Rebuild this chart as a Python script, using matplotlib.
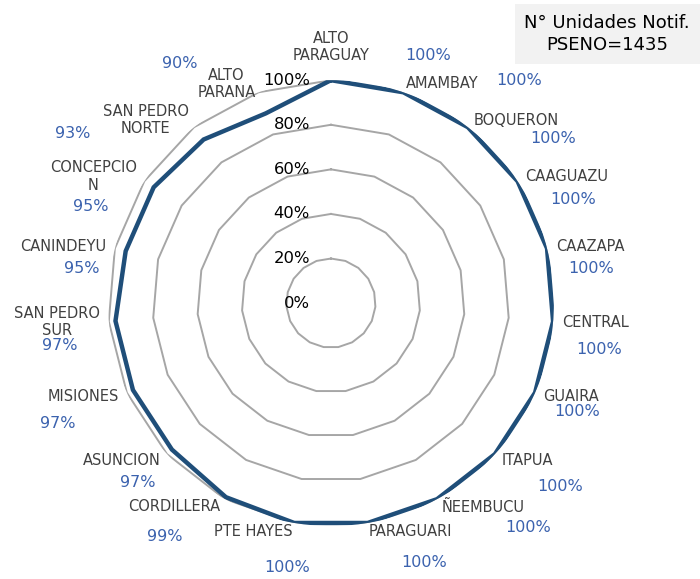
import numpy as np
import matplotlib.pyplot as plt
from matplotlib.patches import Rectangle

# Departamentos (clockwise from the top) and % of notifying units
labels = ["ALTO\nPARAGUAY", "AMAMBAY", "BOQUERON", "CAAGUAZU", "CAAZAPA",
          "CENTRAL", "GUAIRA", "ITAPUA", "ÑEEMBUCU", "PARAGUARI", "PTE HAYES",
          "CORDILLERA", "ASUNCION", "MISIONES", "SAN PEDRO\nSUR", "CANINDEYU",
          "CONCEPCIO\nN", "SAN PEDRO\nNORTE", "ALTO\nPARANA"]
values = [100, 100, 100, 100, 100, 100, 100, 100, 100, 100, 100,
          99, 97, 97, 97, 95, 95, 93, 90]
ring_levels = [20, 40, 60, 80, 100]
tick_levels = [0, 20, 40, 60, 80, 100]

# value label offsets (pixels) from each category label anchor
val_dx = [97, 113, 80, 48, 35, 37, 34, 59, 87, 55, -6, -56, -23, -61, -40, -24, -46, -116, -76]
val_dy = [16, 3, -18, -23, -22, -27, -15, -26, -21, -31, -36, -30, -22, -27, -23, -22, -30, -13, 20]

blue_line = "#1F4E79"
blue_text = "#3B62AE"
grey = "#A6A6A6"
txt = "#404040"

n = len(labels)
theta = np.arange(n) * 2 * np.pi / n
theta_c = np.append(theta, theta[0])

fig = plt.figure(figsize=(7, 5.79), dpi=100)
ax = fig.add_axes([0.1543, 0.0915, 0.637, 0.770], projection="polar")
ax.set_theta_zero_location("N")
ax.set_theta_direction(-1)
ax.set_ylim(0, 100)
ax.grid(False)
ax.spines["polar"].set_visible(False)
ax.set_xticks([])
ax.set_yticks([])
ax.patch.set_alpha(0)

# grid rings as polygons
for lv in ring_levels:
    ax.plot(theta_c, [lv] * (n + 1), color=grey, lw=1.4, zorder=1)

# radial tick labels
for lv in tick_levels:
    ax.annotate(f"{lv}%", xy=(0, lv), xytext=(-21, 0), textcoords="offset pixels",
                ha="right", va="center", fontsize=11.8, color="black")

# data
vals_c = values + values[:1]
ax.plot(theta_c, vals_c, color=blue_line, lw=3.2, zorder=3, solid_joinstyle="miter")

# category labels and value labels
for i, (t, lab, v) in enumerate(zip(theta, labels, values)):
    deg = np.degrees(t)
    if i == 0:
        ha, va, off = "center", "bottom", (0, 8)
    elif deg < 180:
        ha, va, off = "left", "center", (0, 0)
    else:
        ha, va, off = "right", "center", (0, 0)
    ax.annotate(lab, xy=(t, 104), xytext=off, textcoords="offset pixels",
                ha=ha, va=va, multialignment="center", fontsize=10.5,
                color=txt, annotation_clip=False)
    ax.annotate(f"{v}%", xy=(t, 104), xytext=(val_dx[i], val_dy[i]),
                textcoords="offset pixels", ha="center", va="center",
                fontsize=11.5, color=blue_text, annotation_clip=False)

# title box
fig.patches.append(Rectangle((515 / 700, 1 - 64 / 579), 185 / 700, 60 / 579,
                             transform=fig.transFigure, facecolor="#F2F2F2",
                             edgecolor="none", zorder=0))
fig.text(607 / 700, 1 - 34 / 579, "N° Unidades Notif.\nPSENO=1435", ha="center",
         va="center", fontsize=13, color="black", linespacing=1.3)

fig.savefig("out.png", dpi=100)
